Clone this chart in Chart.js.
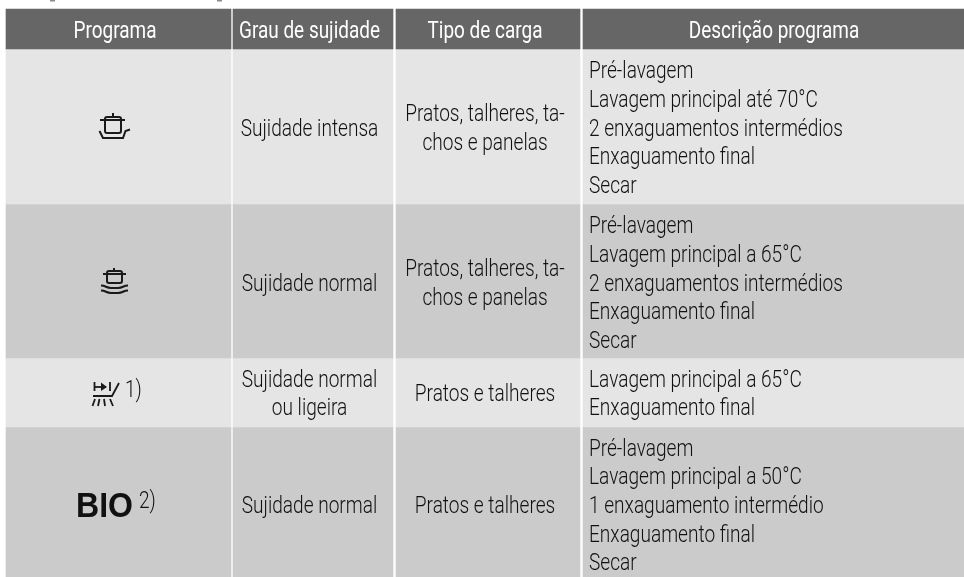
<!DOCTYPE html>
<html>
<head>
<meta charset="utf-8">
<style>
html, body { margin: 0; padding: 0; background: #fff; }
canvas { display: block; }
</style>
<script src="https://cdn.jsdelivr.net/npm/chart.js@4"></script>
</head>
<body>
<canvas id="table-chart" width="964" height="577"></canvas>
<script>
// table content
const columns = ["Programa", "Grau de sujidade", "Tipo de carga", "Descrição programa"];
const programNotes = ["", "", "1)", "2)"];
const soilLevels = [
    ["Sujidade intensa"],
    ["Sujidade normal"],
    ["Sujidade normal", "ou ligeira"],
    ["Sujidade normal"],
];
const loadTypes = [
    ["Pratos, talheres, ta-", "chos e panelas"],
    ["Pratos, talheres, ta-", "chos e panelas"],
    ["Pratos e talheres"],
    ["Pratos e talheres"],
];
const descriptions = [
    ["Pré-lavagem", "Lavagem principal até 70°C", "2 enxaguamentos intermédios", "Enxaguamento final", "Secar"],
    ["Pré-lavagem", "Lavagem principal a 65°C", "2 enxaguamentos intermédios", "Enxaguamento final", "Secar"],
    ["Lavagem principal a 65°C", "Enxaguamento final"],
    ["Pré-lavagem", "Lavagem principal a 50°C", "1 enxaguamento intermédio", "Enxaguamento final", "Secar"],
];

// grid edges, the scales run 1:1 with the page
const rowEdges = [9, 49, 204, 358, 427, 577];
const colEdges = [[6, 231], [233, 393], [396, 580], [583, 964]];
const rowColors = ["#666666", "#e5e5e5", "#cbcbcb", "#e5e5e5", "#cbcbcb"];
const textCenters = [115, 309.5, 485, 774];
const rowBaselines = [135.5, 290.5, 401, 513];
const lineGap = 28.7;
const bodyFont = "300 23px Roboto, sans-serif";
const headFont = "400 23px Roboto, sans-serif";

const datasets = rowColors.map((color, r) => ({
    data: colEdges.map((edge) => ({ x: edge, y: (rowEdges[r] + rowEdges[r + 1]) / 2 })),
    backgroundColor: color,
    barThickness: rowEdges[r + 1] - rowEdges[r],
    grouped: false,
}));

// no condensed face is installed, so squeeze the text sideways
function narrowText(ctx, text, x, y, squeeze) {
    ctx.save();
    ctx.translate(x, y);
    ctx.scale(squeeze, 1);
    ctx.fillText(text, 0, 0);
    ctx.restore();
}

function polyline(ctx, points) {
    ctx.beginPath();
    points.forEach(([x, y], i) => (i ? ctx.lineTo(x, y) : ctx.moveTo(x, y)));
    ctx.stroke();
}

function potIcon(ctx, left, right, top, bottom, lidY, lidL, lidR, knobX, knobY) {
    ctx.beginPath();
    ctx.roundRect(left, top, right - left, bottom - top, 2);
    ctx.stroke();
    polyline(ctx, [[lidL, lidY], [lidR, lidY]]);
    polyline(ctx, [[knobX, knobY], [knobX, top]]);
}

function drawSymbols(ctx) {
    ctx.strokeStyle = "#1a1a1a";
    ctx.fillStyle = "#1a1a1a";
    ctx.lineWidth = 2;

    // intensive
    potIcon(ctx, 105, 121, 117, 133, 120, 100, 125, 113, 113);
    polyline(ctx, [[99.5, 131], [103, 138], [123, 138], [125.5, 131], [130, 129.5]]);

    // normal
    potIcon(ctx, 107, 122, 271, 283, 274, 103, 126, 114, 268);
    for (const d of [0, 5]) {
        ctx.beginPath();
        ctx.moveTo(101, 285.5 + d);
        ctx.bezierCurveTo(106, 285.5 + d, 106, 288 + d, 111, 288 + d);
        ctx.lineTo(118, 288 + d);
        ctx.bezierCurveTo(123, 288 + d, 123, 285.5 + d, 128, 285.5 + d);
        ctx.stroke();
    }

    // quick wash
    ctx.lineWidth = 1.8;
    polyline(ctx, [[94.5, 382], [94.5, 391]]);
    polyline(ctx, [[94.5, 387], [106, 387]]);
    ctx.beginPath();
    ctx.moveTo(101, 382.5);
    ctx.lineTo(107, 387);
    ctx.lineTo(101, 391);
    ctx.closePath();
    ctx.fill();
    polyline(ctx, [[110, 382], [110, 391]]);
    polyline(ctx, [[93, 396], [112, 396], [119, 383]]);
    polyline(ctx, [[95, 399], [92.5, 406]]);
    polyline(ctx, [[99.5, 399], [98, 406]]);
    polyline(ctx, [[104, 399], [105, 406]]);
    polyline(ctx, [[110, 399], [113, 406]]);
}

const cellText = {
    id: "cellText",
    afterDatasetsDraw(chart) {
        const { ctx, scales } = chart;
        const xAt = (v) => scales.x.getPixelForValue(v);
        const yAt = (v) => scales.y.getPixelForValue(v);
        ctx.save();

        // cut-off descenders of the line above the table
        ctx.fillStyle = "#8a8a8a";
        ctx.fillRect(xAt(50), 0, 5, 1.5);
        ctx.fillRect(xAt(217), 0, 5, 1.5);

        // header
        ctx.fillStyle = "#fff";
        ctx.textAlign = "center";
        ctx.font = headFont;
        const headSqueeze = 141 / ctx.measureText(columns[1]).width;
        columns.forEach((name, c) => {
            narrowText(ctx, name, xAt(textCenters[c]), yAt(37.5), headSqueeze);
        });

        // rows
        ctx.fillStyle = "#111";
        ctx.font = bodyFont;
        const bodySqueeze = 137.6 / ctx.measureText(soilLevels[0][0]).width;
        const block = (lines, x, baseline, align) => {
            ctx.textAlign = align;
            lines.forEach((line, i) => {
                const y = baseline + (i - (lines.length - 1) / 2) * lineGap;
                narrowText(ctx, line, xAt(x), yAt(y), bodySqueeze);
            });
        };
        rowBaselines.forEach((baseline, r) => {
            block(soilLevels[r], textCenters[1], baseline, "center");
            block(loadTypes[r], textCenters[2], baseline, "center");
            block(descriptions[r], 589, baseline, "left");
        });

        // notes next to the symbols
        ctx.textAlign = "left";
        narrowText(ctx, programNotes[2], xAt(125), yAt(397), bodySqueeze);
        narrowText(ctx, programNotes[3], xAt(139), yAt(508), bodySqueeze);
        ctx.font = "bold 34.5px 'Liberation Sans', sans-serif";
        narrowText(ctx, "BIO", xAt(76), yAt(517), 57 / ctx.measureText("BIO").width);

        drawSymbols(ctx);
        ctx.restore();
    },
};

new Chart(document.querySelector("#table-chart"), {
    type: "bar",
    data: { datasets },
    options: {
        indexAxis: "y",
        responsive: false,
        animation: false,
        layout: { padding: 0 },
        plugins: { legend: { display: false }, tooltip: { enabled: false } },
        scales: {
            x: { type: "linear", min: 0, max: 964, display: false, offset: false },
            y: { type: "linear", min: 0, max: 577, reverse: true, display: false, offset: false },
        },
    },
    plugins: [cellText],
});
</script>
</body>
</html>
